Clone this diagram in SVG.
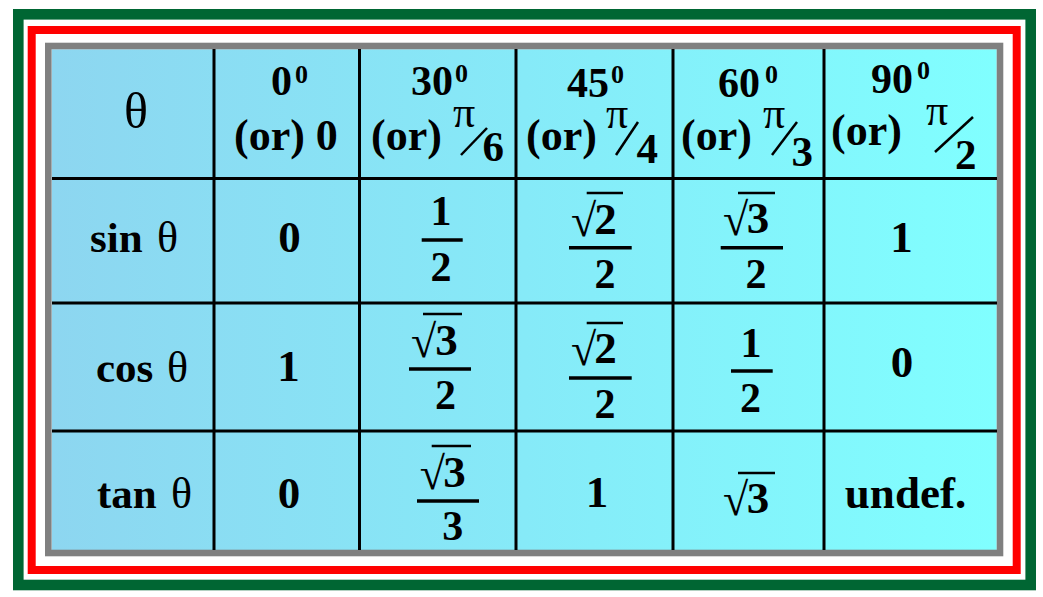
<svg xmlns="http://www.w3.org/2000/svg" width="1043" height="597" viewBox="0 0 1043 597">
<defs>
<linearGradient id="bg" x1="52" y1="0" x2="997" y2="0" gradientUnits="userSpaceOnUse">
<stop offset="0" stop-color="#8DD6F0"/>
<stop offset="0.5" stop-color="#86EAF8"/>
<stop offset="1" stop-color="#80FFFF"/>
</linearGradient>
<style>
.b{font-family:"Liberation Serif","Times New Roman",serif;font-weight:bold;fill:#000}
.n{font-family:"Liberation Serif","Times New Roman",serif;font-weight:normal;fill:#000}
.c{text-anchor:middle}
.h1{font-size:42px}
.sup{font-size:26px}
.h2{font-size:44px}
.pi{font-size:44px}
.den{font-size:43px}
.lab{font-size:43px}
.th{font-size:44px}
.v{font-size:45px}
.f{font-size:42px}
.r{font-size:45px}
.rad{font-size:46px}
.grid line{stroke:#000;stroke-width:3}
.bar{stroke:#000;stroke-width:3.5}
.ob{stroke:#000;stroke-width:2.5}
.sl{stroke:#000;stroke-width:2.5}
</style>
</defs>
<rect x="0" y="0" width="1043" height="597" fill="#FFFFFF"/>
<g id="frame">
<rect x="18.3" y="14.3" width="1012.4" height="570.7" fill="none" stroke="#006633" stroke-width="10.6"/>
<rect x="31.7" y="30" width="985" height="540" fill="none" stroke="#FF0000" stroke-width="8"/>
<rect x="51.7" y="49.3" width="945" height="500.7" fill="url(#bg)"/>
<rect x="48.3" y="46" width="951.7" height="507" fill="none" stroke="#808080" stroke-width="6.6"/>
</g>
<g id="grid" class="grid">
<line x1="214" y1="49" x2="214" y2="550"/>
<line x1="359.5" y1="49" x2="359.5" y2="550"/>
<line x1="516" y1="49" x2="516" y2="550"/>
<line x1="673" y1="49" x2="673" y2="550"/>
<line x1="824" y1="49" x2="824" y2="550"/>
<line x1="52" y1="178.5" x2="997" y2="178.5"/>
<line x1="52" y1="303" x2="997" y2="303"/>
<line x1="52" y1="431" x2="997" y2="431"/>
</g>
<g id="h-theta"><text class="n" x="124" y="128" font-size="50">θ</text></g>
<g id="h-0">
<text class="b h1" x="271" y="95">0</text><text class="b sup" x="295" y="83">0</text>
<text class="b h2" x="234" y="150">(or) 0</text>
</g>
<g id="h-30">
<text class="b h1" x="411" y="95">30</text><text class="b sup" x="455" y="82">0</text>
<text class="b h2" x="371" y="150">(or)</text>
<text class="n pi" x="453" y="127">π</text>
<line class="sl" x1="461" y1="155" x2="487" y2="128"/>
<text class="b den" x="482.5" y="161">6</text>
</g>
<g id="h-45">
<text class="b h1" x="567" y="96.5">45</text><text class="b sup" x="611" y="83">0</text>
<text class="b h2" x="526" y="150">(or)</text>
<text class="n pi" x="606" y="128">π</text>
<line class="sl" x1="616" y1="155" x2="638" y2="122"/>
<text class="b den" x="636.5" y="163">4</text>
</g>
<g id="h-60">
<text class="b h1" x="718" y="96.5">60</text><text class="b sup" x="765" y="83">0</text>
<text class="b h2" x="681" y="150">(or)</text>
<text class="n pi" x="763" y="128">π</text>
<line class="sl" x1="772" y1="155" x2="797" y2="122"/>
<text class="b den" x="791.5" y="166">3</text>
</g>
<g id="h-90">
<text class="b h1" x="871" y="93">90</text><text class="b sup" x="917" y="79">0</text>
<text class="b h2" x="831" y="145">(or)</text>
<text class="n pi" x="926" y="125">π</text>
<line class="sl" x1="935" y1="152" x2="973" y2="117"/>
<text class="b den" x="955" y="169">2</text>
</g>
<g id="l-sin"><text class="b lab" x="90" y="252">sin</text><text class="n th" x="157" y="252">θ</text></g>
<g id="l-cos"><text class="b lab" x="96" y="382">cos</text><text class="n th" x="167" y="382">θ</text></g>
<g id="l-tan"><text class="b lab" x="97" y="508">tan</text><text class="n th" x="171" y="508">θ</text></g>
<g id="sin-0"><text class="b v c" x="289.5" y="252">0</text></g>
<g id="cos-0"><text class="b v c" x="288.5" y="381">1</text></g>
<g id="tan-0"><text class="b v c" x="289" y="508">0</text></g>
<g id="sin-30">
<text class="b f c" x="441" y="225">1</text>
<line class="bar" x1="421.7" y1="240" x2="462.7" y2="240"/>
<text class="b f c" x="441" y="281">2</text>
</g>
<g id="sin-45">
<text class="n rad" x="571" y="236">√</text>
<line class="ob" x1="586.7" y1="193" x2="623" y2="193"/>
<text class="b r c" x="605.5" y="234">2</text>
<line class="bar" x1="569" y1="247.7" x2="631.7" y2="247.7"/>
<text class="b f c" x="605" y="288">2</text>
</g>
<g id="sin-60">
<text class="n rad" x="723" y="235">√</text>
<line class="ob" x1="738" y1="193" x2="775" y2="193"/>
<text class="b r c" x="758" y="233">3</text>
<line class="bar" x1="720.7" y1="247.7" x2="783" y2="247.7"/>
<text class="b f c" x="756" y="288">2</text>
</g>
<g id="sin-90"><text class="b v c" x="901.5" y="252">1</text></g>
<g id="cos-30">
<text class="n rad" x="411" y="357">√</text>
<line class="ob" x1="423" y1="314" x2="462" y2="314"/>
<text class="b r c" x="446.5" y="355">3</text>
<line class="bar" x1="409" y1="369" x2="471" y2="369"/>
<text class="b f c" x="445.5" y="409">2</text>
</g>
<g id="cos-45">
<text class="n rad" x="571" y="365">√</text>
<line class="ob" x1="586.7" y1="323" x2="623" y2="323"/>
<text class="b r c" x="605.5" y="363">2</text>
<line class="bar" x1="569" y1="378" x2="631.7" y2="378"/>
<text class="b f c" x="605" y="418">2</text>
</g>
<g id="cos-60">
<text class="b f c" x="751" y="357">1</text>
<line class="bar" x1="731" y1="371" x2="772.7" y2="371"/>
<text class="b f c" x="750.5" y="411.7">2</text>
</g>
<g id="cos-90"><text class="b v c" x="902" y="377">0</text></g>
<g id="tan-30">
<text class="n rad" x="419.7" y="488.7">√</text>
<line class="ob" x1="431.7" y1="446" x2="471" y2="446"/>
<text class="b r c" x="454.5" y="486.7">3</text>
<line class="bar" x1="417" y1="501" x2="479" y2="501"/>
<text class="b f c" x="452.7" y="540">3</text>
</g>
<g id="tan-45"><text class="b v c" x="597" y="507">1</text></g>
<g id="tan-60">
<text class="n rad" x="723" y="515">√</text>
<line class="ob" x1="738" y1="473" x2="775" y2="473"/>
<text class="b r c" x="758" y="513">3</text>
</g>
<g id="tan-90"><text class="b v c" x="905.5" y="508">undef.</text></g>
</svg>
